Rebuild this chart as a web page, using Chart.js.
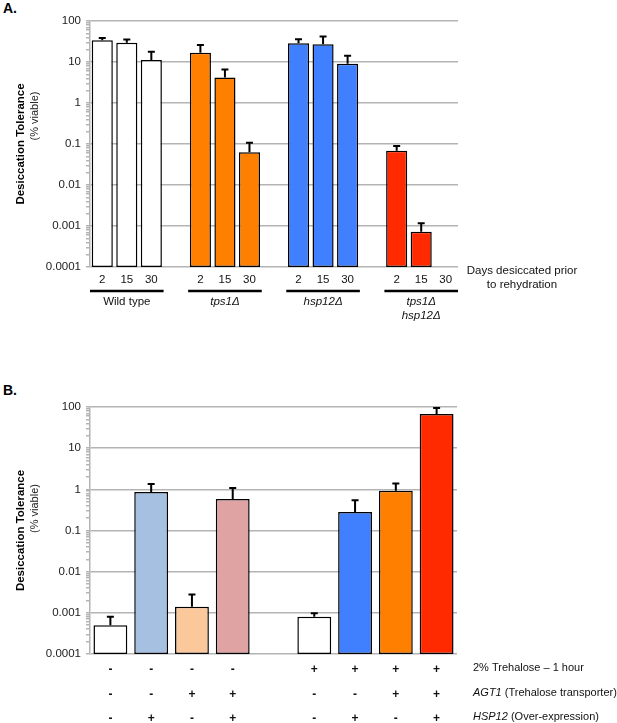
<!DOCTYPE html>
<html>
<head>
<meta charset="utf-8">
<script src="https://cdn.jsdelivr.net/npm/chart.js@4.4.1/dist/chart.umd.min.js"></script>
<style>
body{margin:0;background:#fff;width:617px;height:723px;position:relative;overflow:hidden;font-family:"Liberation Sans",Arial,sans-serif}
.wrap{position:absolute;left:0;width:617px}
#wa{top:0;height:330px}
#wb{top:365px;height:358px}
.lab{position:absolute;left:3px;font-weight:bold;font-size:14px;color:#000}
</style>
</head>
<body>
<div class="lab" style="top:0">A.</div>
<div class="lab" style="top:382px">B.</div>
<div class="wrap" id="wa"><canvas id="chartA"></canvas></div>
<div class="wrap" id="wb"><canvas id="chartB"></canvas></div>
<script>
// ===============================
// Data
// ===============================
const decades = [0.0001, 0.001, 0.01, 0.1, 1, 10, 100];
const decadeLabels = ["0.0001", "0.001", "0.01", "0.1", "1", "10", "100"];

// panel A - days desiccated, one empty slot between strains
const daysA = ["2","15","30","", "2","15","30","", "2","15","30","", "2","15","30"];
const viableA = [34, 29.5, 11.2, null, 16.9, 4.2, 0.063, null, 28.5, 27, 9.1, null, 0.068, 0.00072, null];
const errTopA = [38.5, 35.5, 17.8, null, 26, 6.6, 0.108, null, 36, 42, 14.3, null, 0.089, 0.00117, null];
const strainsA = [["Wild type"], ["tps1\u0394"], ["hsp12\u0394"], ["tps1\u0394", "hsp12\u0394"]];
const strainItalicA = [false, true, true, true];

// panel B - treatment table
const trehaloseB = ["-","-","-","-","", "+","+","+","+"];
const agt1B      = ["-","-","+","+","", "-","-","+","+"];
const hsp12B     = ["-","+","-","+","", "-","+","-","+"];
const viableB = [0.0005, 0.86, 0.0014, 0.58, null, 0.0008, 0.28, 0.93, 68];
const errTopB = [0.0008, 1.34, 0.0028, 1.07, null, 0.00098, 0.54, 1.38, 95];
const rowItalicB = ["", "AGT1", "HSP12"];
const rowTextB = ["2% Trehalose \u2013 1 hour", " (Trehalose transporter)", " (Over-expression)"];

const colorsA = ["#ffffff","#ffffff","#ffffff","#ffffff",
                 "#ff7f00","#ff7f00","#ff7f00","#ffffff",
                 "#4080ff","#4080ff","#4080ff","#ffffff",
                 "#ff2a00","#ff2a00","#ff2a00"];
const colorsB = ["#ffffff","#a6c0e2","#fbc89c","#e0a3a3","#ffffff",
                 "#ffffff","#4080ff","#ff7f00","#ff2a00"];

const FONT = "'Liberation Sans', Arial, sans-serif";
const GRID = "#b4b4b4";

// ===============================
// Shared helpers
// ===============================
function isDecade(v){
    return decades.some(d => Math.abs(v - d) / d < 1e-6);
}

function logAxis(width){
    return {
        type: "logarithmic",
        min: 0.0001,
        max: 100,
        afterBuildTicks(scale){
            const ticks = [];
            decades.forEach((d, i) => {
                if (i === decades.length - 1) { ticks.push({value: d, major: true}); return; }
                for (let m = 1; m < 10; m++) ticks.push({value: d * m, major: m === 1});
            });
            scale.ticks = ticks;
        },
        afterFit(scale){ scale.width = width; },
        ticks: {
            autoSkip: false,
            padding: 5,
            color: "#222",
            font: {family: FONT, size: 11.5},
            callback: (v) => {
                const i = decades.findIndex(d => Math.abs(v - d) / d < 1e-6);
                return i >= 0 ? decadeLabels[i] : "";
            }
        },
        grid: {
            color: ctx => (ctx.tick && isDecade(ctx.tick.value)) ? GRID : "rgba(0,0,0,0)",
            tickColor: GRID,
            tickLength: 4,
            lineWidth: 1.5
        },
        border: {color: GRID, width: 1.5},
        title: {
            display: true,
            text: "Desiccation Tolerance",
            color: "#000",
            font: {family: FONT, size: 11.5, weight: "bold"},
            padding: {top: 14, bottom: 0}
        }
    };
}

function errorBars(tops){
    return {
        id: "errorBars",
        afterDatasetsDraw(chart){
            const ctx = chart.ctx, y = chart.scales.y;
            const meta = chart.getDatasetMeta(0);
            ctx.save();
            ctx.strokeStyle = "#000";
            ctx.lineWidth = 2;
            tops.forEach((t, i) => {
                if (t == null) return;
                const b = meta.data[i];
                const yt = y.getPixelForValue(t);
                ctx.beginPath();
                ctx.moveTo(b.x, b.y);
                ctx.lineTo(b.x, yt);
                ctx.moveTo(b.x - 3.5, yt);
                ctx.lineTo(b.x + 3.5, yt);
                ctx.stroke();
            });
            ctx.restore();
        }
    };
}

function viableLabel(offset){
    return {
        id: "viableLabel",
        afterDraw(chart){
            const ctx = chart.ctx, a = chart.chartArea;
            ctx.save();
            ctx.translate(35, (a.top + a.bottom) / 2 + offset);
            ctx.rotate(-Math.PI / 2);
            ctx.font = "11px " + FONT;
            ctx.fillStyle = "#222";
            ctx.textAlign = "center";
            ctx.textBaseline = "middle";
            ctx.fillText("(% viable)", 0, 0);
            ctx.restore();
        }
    };
}

// ===============================
// Panel A
// ===============================
const strainLabelsA = {
    id: "strainLabelsA",
    afterDraw(chart){
        const ctx = chart.ctx, x = chart.scales.x, a = chart.chartArea;
        const slot = x.getPixelForValue(1) - x.getPixelForValue(0);
        // find runs of non-empty day labels
        const runs = [];
        daysA.forEach((d, i) => {
            if (d === "") return;
            if (i === 0 || daysA[i - 1] === "") runs.push([i, i]);
            else runs[runs.length - 1][1] = i;
        });
        ctx.save();
        ctx.fillStyle = "#111";
        ctx.strokeStyle = "#000";
        ctx.textAlign = "center";
        ctx.textBaseline = "middle";
        runs.forEach((r, g) => {
            const x0 = x.getPixelForValue(r[0]) - slot / 2;
            const x1 = x.getPixelForValue(r[1]) + slot / 2;
            ctx.lineWidth = 2.5;
            ctx.beginPath();
            ctx.moveTo(x0, a.bottom + 24);
            ctx.lineTo(x1, a.bottom + 24);
            ctx.stroke();
            ctx.font = (strainItalicA[g] ? "italic " : "") + "11.5px " + FONT;
            strainsA[g].forEach((s, k) => ctx.fillText(s, (x0 + x1) / 2, a.bottom + 35 + k * 14));
        });
        ctx.font = "11.5px " + FONT;
        ctx.fillText("Days desiccated prior", a.right + 64, a.bottom + 4);
        ctx.fillText("to rehydration", a.right + 64, a.bottom + 18);
        ctx.restore();
    }
};

new Chart(document.getElementById("chartA"), {
    type: "bar",
    data: {
        labels: daysA,
        datasets: [{
            data: viableA,
            backgroundColor: colorsA,
            borderColor: "#000",
            borderWidth: 1.5,
            borderSkipped: false,
            barPercentage: 0.86,
            categoryPercentage: 1
        }]
    },
    options: {
        responsive: true,
        maintainAspectRatio: false,
        animation: false,
        layout: {padding: {top: 21, right: 159, left: 0, bottom: 0}},
        plugins: {legend: {display: false}, tooltip: {enabled: false}},
        scales: {
            x: {
                afterFit(scale){ scale.height = 63; },
                grid: {display: false, drawTicks: false},
                border: {display: false},
                ticks: {autoSkip: false, maxRotation: 0, padding: 6, color: "#111",
                        font: {family: FONT, size: 11.5}}
            },
            y: logAxis(90)
        }
    },
    plugins: [errorBars(errTopA), viableLabel(-28), strainLabelsA]
});

// ===============================
// Panel B
// ===============================
const rowLabelsB = {
    id: "rowLabelsB",
    afterDraw(chart){
        const ctx = chart.ctx, a = chart.chartArea;
        const rowsY = [14, 39, 63];
        ctx.save();
        ctx.fillStyle = "#111";
        ctx.textBaseline = "middle";
        ctx.textAlign = "left";
        rowTextB.forEach((t, i) => {
            let xx = a.right + 16;
            if (rowItalicB[i]) {
                ctx.font = "italic 11px " + FONT;
                ctx.fillText(rowItalicB[i], xx, a.bottom + rowsY[i]);
                xx += ctx.measureText(rowItalicB[i]).width;
            }
            ctx.font = "11px " + FONT;
            ctx.fillText(t, xx, a.bottom + rowsY[i]);
        });
        ctx.restore();
    }
};

new Chart(document.getElementById("chartB"), {
    type: "bar",
    data: {
        labels: trehaloseB.map((t, i) => [t, agt1B[i], hsp12B[i]]),
        datasets: [{
            data: viableB,
            backgroundColor: colorsB,
            borderColor: "#000",
            borderWidth: 1.5,
            borderSkipped: false,
            barPercentage: 0.83,
            categoryPercentage: 1
        }]
    },
    options: {
        responsive: true,
        maintainAspectRatio: false,
        animation: false,
        layout: {padding: {top: 42, right: 160, left: 0, bottom: 0}},
        plugins: {legend: {display: false}, tooltip: {enabled: false}},
        scales: {
            x: {
                afterFit(scale){ scale.height = 69; },
                grid: {display: false, drawTicks: false},
                border: {display: false},
                ticks: {autoSkip: false, maxRotation: 0, padding: 3.5, color: "#111",
                        font: {family: FONT, size: 12, weight: "bold", lineHeight: 2.04}}
            },
            y: logAxis(90)
        }
    },
    plugins: [errorBars(errTopB), viableLabel(-22), rowLabelsB]
});
</script>
</body>
</html>
